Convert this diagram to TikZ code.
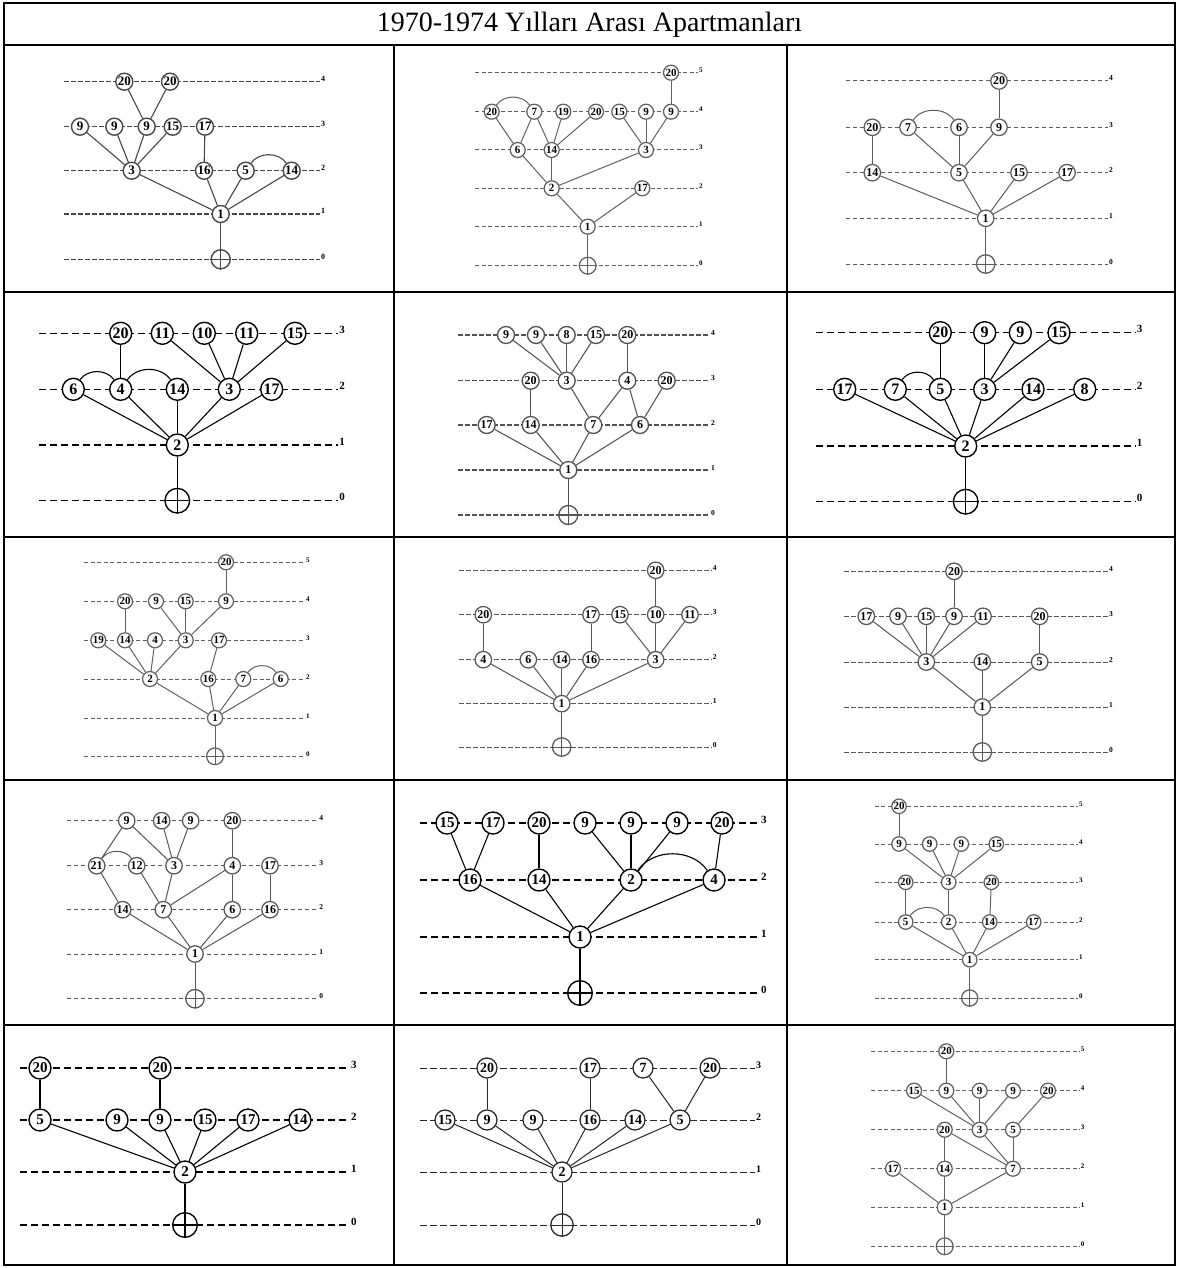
\documentclass[tikz,border=0pt]{standalone}
\usepackage{fontspec}
\setmainfont{Liberation Serif}
\newcommand\cellset[7]{\def\ndd{#1pt}\def\nfs{#2pt}\def\lc{#3}\def\don{#4pt}\def\doff{#5pt}\def\lfs{#6pt}\def\lw{#7pt}}
\newcommand\lv[5]{\draw[lvl] (#3,#2) -- (#4,#2) node[lab] (#1) {#5};}
\newcommand\N[4]{\node[nd] (#1) at (#2,#3) {#4};}
\newcommand\rt[3]{\node[nd,minimum size=1.12*\ndd] (#1) at (#2,#3) {}; \draw[ed] (#1.north)--(#1.south) (#1.west)--(#1.east);}
\newcommand\arcc[2]{\draw[ed] (#1) to[out=55,in=125] (#2);}
\tikzset{
 nd/.style={circle,draw=\lc,fill=white,inner sep=0pt,minimum size=\ndd,text=black,line width=1.25*\lw,font=\bfseries\fontsize{\nfs}{\nfs}\selectfont},
 ed/.style={draw=\lc,line width=\lw},
 lvl/.style={draw=\lc,line width=\lw,dash pattern=on \don off \doff},
 lab/.style={anchor=base west,inner sep=0.6pt,text=black,font=\bfseries\fontsize{\lfs}{\lfs}\selectfont},
 grid/.style={line width=2pt,draw=black}
}
\begin{document}
\begin{tikzpicture}[x=1pt,y=-1pt]
\fill[white] (0,0) rectangle (1178,1268);
\useasboundingbox (0,0) rectangle (1178,1268);
% table
\draw[grid] (4,3) rectangle (1175,1265);
\foreach \yy in {45,292,537,780,1025} \draw[grid] (4,\yy) -- (1175,\yy);
\draw[grid] (394,45) -- (394,1265);
\draw[grid] (787,45) -- (787,1265);
\node[font=\fontsize{28pt}{28pt}\selectfont] (title) at (589.5,25) {1970-1974 Yılları Arası Apartmanları};

% ---------- cell 1
\begin{scope}
\cellset{17}{13}{black!72}{4.5}{2.5}{8}{1.1}
\lv{aL4}{81.7}{64}{320}{4}\lv{aL3}{126.7}{64}{320}{3}\lv{aL2}{170.7}{64}{320}{2}\lv{aL1}{214}{64}{320}{1}\lv{aL0}{259.3}{64}{320}{0}
\N{a20a}{124.3}{81.7}{20}\N{a20b}{170}{81.7}{20}
\N{a9a}{80}{126.7}{9}\N{a9b}{114.3}{126.7}{9}\N{a9c}{146.7}{126.7}{9}\N{a15}{172.7}{126.7}{15}\N{a17}{205}{126.7}{17}
\N{a3}{131.7}{170.7}{3}\N{a16}{204}{170.7}{16}\N{a5}{245.7}{170.7}{5}\N{a14}{291.7}{170.7}{14}
\N{a1}{220.7}{214}{1}\rt{aR}{220.7}{259.3}
\foreach \a/\b in {a20a/a9c,a20b/a9c,a9a/a3,a9b/a3,a9c/a3,a15/a3,a17/a16,a3/a1,a16/a1,a5/a1,a14/a1,a1/aR} \draw[ed] (\a)--(\b);
\arcc{a5}{a14}
\end{scope}

% ---------- cell 2
\begin{scope}
\cellset{15}{11}{black!62}{4}{2.5}{7}{1}
\lv{bL5}{72.7}{475}{698}{5}\lv{bL4}{111.7}{475}{698}{4}\lv{bL3}{150}{475}{698}{3}\lv{bL2}{188.3}{475}{698}{2}\lv{bL1}{226.7}{475}{698}{1}\lv{bL0}{265.7}{475}{698}{0}
\N{b20e}{671}{72.7}{20}
\N{b20a}{491.7}{111.7}{20}\N{b7}{534.3}{111.7}{7}\N{b19}{563.3}{111.7}{19}\N{b20b}{596}{111.7}{20}\N{b15}{619.3}{111.7}{15}\N{b9a}{646}{111.7}{9}\N{b9b}{671}{111.7}{9}
\N{b6}{517.7}{150}{6}\N{b14}{551.7}{150}{14}\N{b3}{646}{150}{3}
\N{b2}{551.7}{188.3}{2}\N{b17}{642.3}{188.3}{17}
\N{b1}{587.7}{226.7}{1}\rt{bR}{587.7}{265.7}
\foreach \a/\b in {b20e/b9b,b20a/b6,b7/b6,b7/b14,b19/b14,b20b/b14,b15/b3,b9a/b3,b9b/b3,b6/b2,b14/b2,b3/b2,b2/b1,b17/b1,b1/bR} \draw[ed] (\a)--(\b);
\arcc{b20a}{b7}
\end{scope}

% ---------- cell 3
\begin{scope}
\cellset{16.5}{12}{black!64}{4.5}{2.5}{7.5}{1}
\lv{cL4}{81}{845.7}{1108}{4}\lv{cL3}{127.3}{845.7}{1108}{3}\lv{cL2}{172.7}{845.7}{1108}{2}\lv{cL1}{218.3}{845.7}{1108}{1}\lv{cL0}{264}{845.7}{1108}{0}
\N{c20b}{999}{81}{20}
\N{c20a}{872.3}{127.3}{20}\N{c7}{908}{127.3}{7}\N{c6}{959}{127.3}{6}\N{c9}{999}{127.3}{9}
\N{c14}{872.3}{172.7}{14}\N{c5}{959}{172.7}{5}\N{c15}{1019}{172.7}{15}\N{c17}{1067}{172.7}{17}
\N{c1}{985.7}{218.3}{1}\rt{cR}{985.7}{264}
\foreach \a/\b in {c20b/c9,c20a/c14,c7/c5,c6/c5,c9/c5,c14/c1,c5/c1,c15/c1,c17/c1,c1/cR} \draw[ed] (\a)--(\b);
\arcc{c7}{c6}
\end{scope}

% ---------- cell 4
\begin{scope}
\cellset{22}{16}{black}{7}{4}{11}{1.1}
\lv{dL3}{333.3}{39.3}{338.3}{3}\lv{dL2}{389.3}{39.3}{338.3}{2}\lv{dL1}{445}{39.3}{338.3}{1}\lv{dL0}{500.7}{39.3}{338.3}{0}
\N{d20}{120.7}{333.3}{20}\N{d11a}{162.3}{333.3}{11}\N{d10}{204.3}{333.3}{10}\N{d11b}{246.7}{333.3}{11}\N{d15}{295}{333.3}{15}
\N{d6}{73.3}{389.3}{6}\N{d4}{120.7}{389.3}{4}\N{d14}{177.3}{389.3}{14}\N{d3}{229.3}{389.3}{3}\N{d17}{271.7}{389.3}{17}
\N{d2}{177.3}{445}{2}\rt{dR}{177.3}{500.7}
\foreach \a/\b in {d20/d4,d11a/d3,d10/d3,d11b/d3,d15/d3,d6/d2,d4/d2,d14/d2,d3/d2,d17/d2,d2/dR} \draw[ed] (\a)--(\b);
\arcc{d6}{d4}\arcc{d4}{d14}
\end{scope}

% ---------- cell 5
\begin{scope}
\cellset{17}{12}{black!68}{4.5}{2.5}{7.5}{1.05}
\lv{eL4}{335}{458.3}{710}{4}\lv{eL3}{380.7}{458.3}{710}{3}\lv{eL2}{425}{458.3}{710}{2}\lv{eL1}{470}{458.3}{710}{1}\lv{eL0}{515}{458.3}{710}{0}
\N{e9a}{506}{335}{9}\N{e9b}{536}{335}{9}\N{e8}{566.7}{335}{8}\N{e15}{596}{335}{15}\N{e20a}{627.3}{335}{20}
\N{e20b}{530.7}{380.7}{20}\N{e3}{566.7}{380.7}{3}\N{e4}{627.3}{380.7}{4}\N{e20c}{666.7}{380.7}{20}
\N{e17}{486.7}{425}{17}\N{e14}{530.7}{425}{14}\N{e7}{593.3}{425}{7}\N{e6}{640}{425}{6}
\N{e1}{568.3}{470}{1}\rt{eR}{568.3}{515}
\foreach \a/\b in {e9a/e3,e9b/e3,e8/e3,e15/e3,e20a/e4,e20b/e14,e3/e7,e4/e7,e4/e6,e20c/e6,e17/e1,e14/e1,e7/e1,e6/e1,e1/eR} \draw[ed] (\a)--(\b);
\end{scope}

% ---------- cell 6
\begin{scope}
\cellset{22}{16}{black}{7}{4}{11}{1.1}
\lv{fL3}{332.7}{816.3}{1135.7}{3}\lv{fL2}{389.3}{816.3}{1135.7}{2}\lv{fL1}{446}{816.3}{1135.7}{1}\lv{fL0}{501.7}{816.3}{1135.7}{0}
\N{f20}{940.3}{332.7}{20}\N{f9a}{984.7}{332.7}{9}\N{f9b}{1020.3}{332.7}{9}\N{f15}{1059}{332.7}{15}
\N{f17}{844.7}{389.3}{17}\N{f7}{895.3}{389.3}{7}\N{f5}{940.3}{389.3}{5}\N{f3}{984.7}{389.3}{3}\N{f14}{1033}{389.3}{14}\N{f8}{1084.7}{389.3}{8}
\N{f2}{965.7}{446}{2}\rt{fR}{965.7}{501.7}
\foreach \a/\b in {f20/f5,f9a/f3,f9b/f3,f15/f3,f17/f2,f7/f2,f5/f2,f3/f2,f14/f2,f8/f2,f2/fR} \draw[ed] (\a)--(\b);
\arcc{f7}{f5}
\end{scope}

% ---------- cell 7
\begin{scope}
\cellset{15}{11}{black!62}{4}{2.5}{7}{1}
\lv{gL5}{562.3}{84}{305}{5}\lv{gL4}{601.3}{84}{305}{4}\lv{gL3}{640.3}{84}{305}{3}\lv{gL2}{679}{84}{305}{2}\lv{gL1}{718}{84}{305}{1}\lv{gL0}{756.3}{84}{305}{0}
\N{g20a}{226}{562.3}{20}
\N{g20b}{125}{601.3}{20}\N{g9a}{156}{601.3}{9}\N{g15}{185.7}{601.3}{15}\N{g9b}{226}{601.3}{9}
\N{g19}{98.3}{640.3}{19}\N{g14}{125}{640.3}{14}\N{g4}{155}{640.3}{4}\N{g3}{185.7}{640.3}{3}\N{g17}{219}{640.3}{17}
\N{g2}{150}{679}{2}\N{g16}{208.3}{679}{16}\N{g7}{243.3}{679}{7}\N{g6}{280.7}{679}{6}
\N{g1}{215}{718}{1}\rt{gR}{215}{756.3}
\foreach \a/\b in {g20a/g9b,g20b/g14,g9a/g3,g15/g3,g9b/g3,g19/g2,g14/g2,g4/g2,g3/g2,g17/g16,g2/g1,g16/g1,g7/g1,g6/g1,g1/gR} \draw[ed] (\a)--(\b);
\arcc{g7}{g6}
\end{scope}

% ---------- cell 8
\begin{scope}
\cellset{16.5}{12}{black!66}{4.5}{2.5}{7.5}{1}
\lv{hL4}{570.3}{459.3}{711.7}{4}\lv{hL3}{614.7}{459.3}{711.7}{3}\lv{hL2}{659.7}{459.3}{711.7}{2}\lv{hL1}{703.7}{459.3}{711.7}{1}\lv{hL0}{747}{459.3}{711.7}{0}
\N{h20a}{655.7}{570.3}{20}
\N{h20b}{483.3}{614.7}{20}\N{h17}{591}{614.7}{17}\N{h15}{620}{614.7}{15}\N{h10}{655.7}{614.7}{10}\N{h11}{690}{614.7}{11}
\N{h4}{483.3}{659.7}{4}\N{h6}{528.3}{659.7}{6}\N{h14}{561.7}{659.7}{14}\N{h16}{591}{659.7}{16}\N{h3}{655.7}{659.7}{3}
\N{h1}{561.7}{703.7}{1}\rt{hR}{561.7}{747}
\foreach \a/\b in {h20a/h10,h20b/h4,h17/h16,h15/h3,h10/h3,h11/h3,h4/h1,h6/h1,h14/h1,h16/h1,h3/h1,h1/hR} \draw[ed] (\a)--(\b);
\end{scope}

% ---------- cell 9
\begin{scope}
\cellset{16.5}{12}{black!66}{4.5}{2.5}{7.5}{1}
\lv{iL4}{571.3}{844}{1108}{4}\lv{iL3}{616.3}{844}{1108}{3}\lv{iL2}{662}{844}{1108}{2}\lv{iL1}{707}{844}{1108}{1}\lv{iL0}{752}{844}{1108}{0}
\N{i20a}{954}{571.3}{20}
\N{i17}{866.3}{616.3}{17}\N{i9a}{898}{616.3}{9}\N{i15}{926.3}{616.3}{15}\N{i9b}{954}{616.3}{9}\N{i11}{983}{616.3}{11}\N{i20b}{1039.7}{616.3}{20}
\N{i3}{926.3}{662}{3}\N{i14}{982.3}{662}{14}\N{i5}{1039.7}{662}{5}
\N{i1}{982.3}{707}{1}\rt{iR}{982.3}{752}
\foreach \a/\b in {i20a/i9b,i17/i3,i9a/i3,i15/i3,i9b/i3,i11/i3,i20b/i5,i3/i1,i14/i1,i5/i1,i1/iR} \draw[ed] (\a)--(\b);
\end{scope}

% ---------- cell 10
\begin{scope}
\cellset{16.5}{12}{black!66}{4.5}{2.5}{7.5}{1}
\lv{jL4}{820.7}{66.7}{318.3}{4}\lv{jL3}{865.7}{66.7}{318.3}{3}\lv{jL2}{909.7}{66.7}{318.3}{2}\lv{jL1}{954}{66.7}{318.3}{1}\lv{jL0}{998.7}{66.7}{318.3}{0}
\N{j9a}{126.7}{820.7}{9}\N{j14a}{161.7}{820.7}{14}\N{j9b}{190.7}{820.7}{9}\N{j20}{232.3}{820.7}{20}
\N{j21}{96.7}{865.7}{21}\N{j12}{136.7}{865.7}{12}\N{j3}{174}{865.7}{3}\N{j4}{232.3}{865.7}{4}\N{j17}{270}{865.7}{17}
\N{j14b}{122.7}{909.7}{14}\N{j7}{163.3}{909.7}{7}\N{j6}{232.3}{909.7}{6}\N{j16}{270}{909.7}{16}
\N{j1}{195}{954}{1}\rt{jR}{195}{998.7}
\foreach \a/\b in {j9a/j21,j9a/j3,j14a/j3,j9b/j3,j20/j4,j21/j14b,j12/j7,j3/j7,j4/j7,j4/j6,j17/j16,j14b/j1,j7/j1,j6/j1,j16/j1,j1/jR} \draw[ed] (\a)--(\b);
\arcc{j21}{j12}
\end{scope}

% ---------- cell 11
\begin{scope}
\cellset{22}{15}{black}{7}{4}{11}{1.1}
\lv{kL3}{823}{420}{760}{3}\lv{kL2}{880}{420}{760}{2}\lv{kL1}{937}{420}{760}{1}\lv{kL0}{993}{420}{760}{0}
\N{k15}{447}{823}{15}\N{k17}{493}{823}{17}\N{k20a}{539}{823}{20}\N{k9a}{585}{823}{9}\N{k9b}{631}{823}{9}\N{k9c}{677}{823}{9}\N{k20b}{722}{823}{20}
\N{k16}{470}{880}{16}\N{k14}{539}{880}{14}\N{k2}{631}{880}{2}\N{k4}{714}{880}{4}
\N{k1}{580}{937}{1}\rt{kR}{580}{993}
\foreach \a/\b in {k15/k16,k17/k16,k20a/k14,k9a/k2,k9b/k2,k9c/k2,k20b/k4,k16/k1,k14/k1,k2/k1,k4/k1,k1/kR} \draw[ed] (\a)--(\b);
\arcc{k2}{k4}
\end{scope}

% ---------- cell 12
\begin{scope}
\cellset{14.5}{11}{black!62}{4}{2.5}{7}{1}
\lv{lL5}{806.3}{874.7}{1078}{5}\lv{lL4}{844}{874.7}{1078}{4}\lv{lL3}{882.3}{874.7}{1078}{3}\lv{lL2}{922}{874.7}{1078}{2}\lv{lL1}{959.7}{874.7}{1078}{1}\lv{lL0}{998}{874.7}{1078}{0}
\N{l20a}{899}{806.3}{20}
\N{l9a}{899}{844}{9}\N{l9b}{929.7}{844}{9}\N{l9c}{961.3}{844}{9}\N{l15}{996.3}{844}{15}
\N{l20b}{905.7}{882.3}{20}\N{l3}{948.7}{882.3}{3}\N{l20c}{991.3}{882.3}{20}
\N{l5}{905.7}{922}{5}\N{l2}{948.7}{922}{2}\N{l14}{989.7}{922}{14}\N{l17}{1033.7}{922}{17}
\N{l1}{969.7}{959.7}{1}\rt{lR}{969.7}{998}
\foreach \a/\b in {l20a/l9a,l9a/l3,l9b/l3,l9c/l3,l15/l3,l20b/l5,l3/l2,l20c/l14,l5/l1,l2/l1,l14/l1,l17/l1,l1/lR} \draw[ed] (\a)--(\b);
\arcc{l5}{l2}
\end{scope}

% ---------- cell 13
\begin{scope}
\cellset{22}{15}{black}{7}{4}{11}{1.1}
\lv{mL3}{1068}{20}{350}{3}\lv{mL2}{1120}{20}{350}{2}\lv{mL1}{1172}{20}{350}{1}\lv{mL0}{1225}{20}{350}{0}
\N{m20a}{40}{1068}{20}\N{m20b}{160}{1068}{20}
\N{m5}{40}{1120}{5}\N{m9a}{117}{1120}{9}\N{m9b}{160}{1120}{9}\N{m15}{205}{1120}{15}\N{m17}{248}{1120}{17}\N{m14}{300}{1120}{14}
\N{m2}{185}{1172}{2}\rt{mR}{185}{1225}
\foreach \a/\b in {m20a/m5,m20b/m9b,m5/m2,m9a/m2,m9b/m2,m15/m2,m17/m2,m14/m2,m2/mR} \draw[ed] (\a)--(\b);
\end{scope}

% ---------- cell 14
\begin{scope}
\cellset{20}{14}{black!85}{6.5}{3.5}{10}{1}
\lv{nL3}{1068}{420}{755}{3}\lv{nL2}{1120}{420}{755}{2}\lv{nL1}{1172}{420}{755}{1}\lv{nL0}{1225}{420}{755}{0}
\N{n20a}{487}{1068}{20}\N{n17}{590}{1068}{17}\N{n7}{643}{1068}{7}\N{n20b}{710}{1068}{20}
\N{n15}{445}{1120}{15}\N{n9a}{487}{1120}{9}\N{n9b}{533}{1120}{9}\N{n16}{590}{1120}{16}\N{n14}{635}{1120}{14}\N{n5}{680}{1120}{5}
\N{n2}{562}{1172}{2}\rt{nR}{562}{1225}
\foreach \a/\b in {n20a/n9a,n17/n16,n7/n5,n20b/n5,n15/n2,n9a/n2,n9b/n2,n16/n2,n14/n2,n5/n2,n2/nR} \draw[ed] (\a)--(\b);
\end{scope}

% ---------- cell 15
\begin{scope}
\cellset{15}{11}{black!62}{4}{2.5}{7}{1}
\lv{oL5}{1051.3}{871.3}{1079.7}{5}\lv{oL4}{1090.7}{871.3}{1079.7}{4}\lv{oL3}{1129.7}{871.3}{1079.7}{3}\lv{oL2}{1168.7}{871.3}{1079.7}{2}\lv{oL1}{1207.3}{871.3}{1079.7}{1}\lv{oL0}{1246.3}{871.3}{1079.7}{0}
\N{o20a}{946.3}{1051.3}{20}
\N{o15}{914}{1090.7}{15}\N{o9a}{946.3}{1090.7}{9}\N{o9b}{979.7}{1090.7}{9}\N{o9c}{1013}{1090.7}{9}\N{o20b}{1048}{1090.7}{20}
\N{o20c}{944.7}{1129.7}{20}\N{o3}{979.7}{1129.7}{3}\N{o5}{1013}{1129.7}{5}
\N{o17}{893}{1168.7}{17}\N{o14}{944.7}{1168.7}{14}\N{o7}{1013}{1168.7}{7}
\N{o1}{944.7}{1207.3}{1}\rt{oR}{944.7}{1246.3}
\foreach \a/\b in {o20a/o9a,o15/o3,o9a/o3,o9b/o3,o9c/o3,o20b/o5,o20c/o14,o20c/o7,o3/o7,o5/o7,o17/o1,o14/o1,o7/o1,o1/oR} \draw[ed] (\a)--(\b);
\end{scope}
\end{tikzpicture}
\end{document}
